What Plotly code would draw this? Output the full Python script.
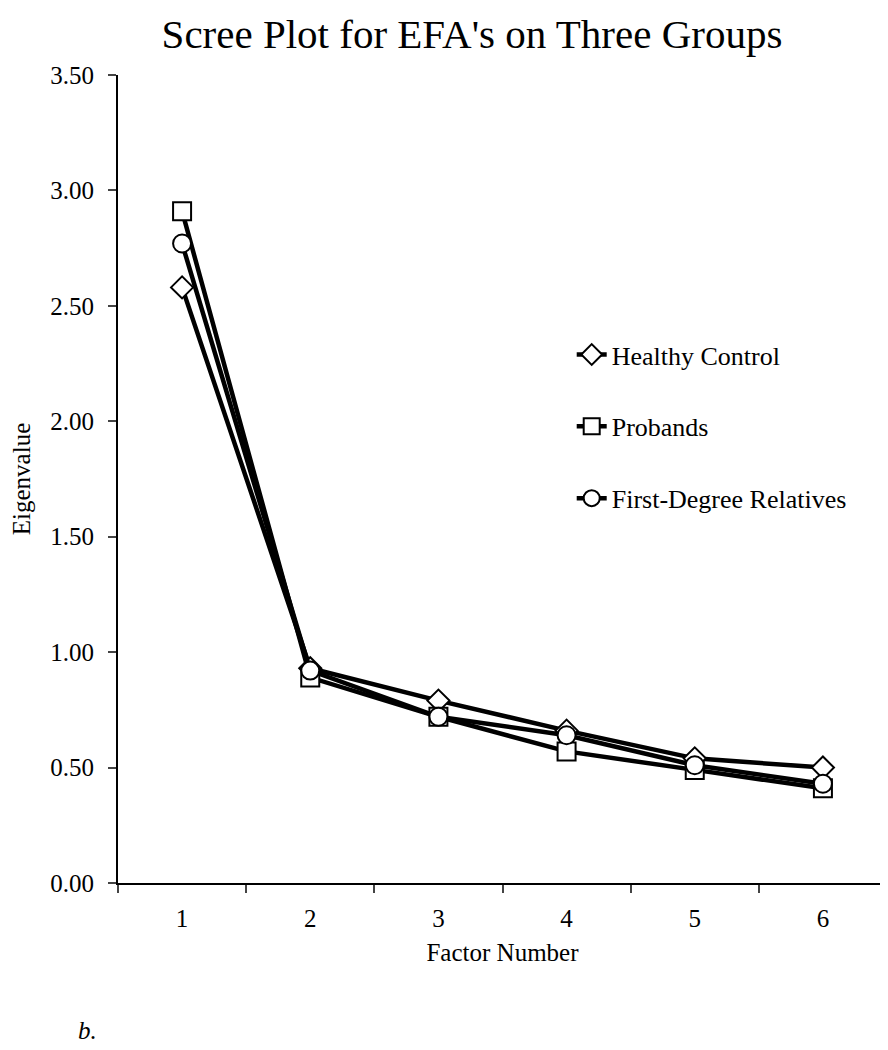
import plotly.graph_objects as go

factors = ["1", "2", "3", "4", "5", "6"]
healthy = [2.58, 0.93, 0.79, 0.66, 0.54, 0.50]
probands = [2.91, 0.89, 0.72, 0.57, 0.49, 0.41]
relatives = [2.77, 0.92, 0.72, 0.64, 0.51, 0.43]
y_ticks = [0, 0.5, 1.0, 1.5, 2.0, 2.5, 3.0, 3.5]
y_labels = ["0.00", "0.50", "1.00", "1.50", "2.00", "2.50", "3.00", "3.50"]

series = [
    ("Healthy Control", healthy, "diamond", 17),
    ("Probands", probands, "square", 18),
    ("First-Degree Relatives", relatives, "circle", 18),
]

fig = go.Figure()
for i, (name, vals, sym, sz) in enumerate(series):
    fig.add_trace(go.Scatter(
        x=factors, y=vals, name=name, mode="lines+markers",
        line=dict(color="black", width=4.5),
        marker=dict(symbol=sym, size=sz, color="white", line=dict(color="black", width=2)),
        legendgroup=str(i),
    ))

font = "Liberation Serif, Times New Roman, serif"
fig.update_layout(
    width=888, height=1050,
    margin=dict(l=110, r=9, t=67, b=175, autoexpand=False),
    paper_bgcolor="white", plot_bgcolor="white",
    font=dict(family=font, color="black", size=25),
    title=dict(text="Scree Plot for EFA's on Three Groups", x=464 / 888, xanchor="center",
               y=1 - 11 / 1050, yanchor="top", font=dict(size=41, family=font)),
    showlegend=True,
    legend=dict(x=0.590, y=0.683, xanchor="left", yanchor="top", font=dict(size=26, family=font),
                tracegroupgap=35, bgcolor="rgba(0,0,0,0)", itemwidth=30),
    xaxis=dict(type="category", tickson="boundaries", ticks="outside", ticklen=8, tickwidth=2,
               showline=True, linecolor="black", linewidth=2, showgrid=False, automargin=False,
               tickfont=dict(size=25), ticklabelstandoff=12,
               title=dict(text="Factor Number", font=dict(size=25), standoff=12),
               range=[-0.5, 5.5]),
    yaxis=dict(range=[0, 3.5], tickvals=y_ticks, ticktext=y_labels, ticks="outside", ticklen=8,
               tickwidth=2, showline=True, linecolor="black", linewidth=2, showgrid=False,
               zeroline=False, tickfont=dict(size=25), ticklabelstandoff=9, automargin=False,
               title=dict(text="Eigenvalue", font=dict(size=25), standoff=28)),
)
fig.add_annotation(text="<i>b.</i>", xref="paper", yref="paper", x=-0.055, y=-0.182,
                   xanchor="left", yanchor="middle", showarrow=False, font=dict(size=25, family=font))
fig.write_html("out.html")
